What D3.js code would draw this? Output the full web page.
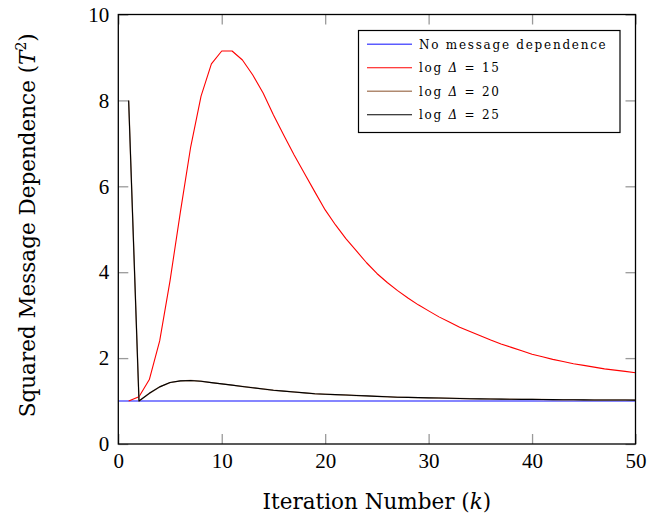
<!DOCTYPE html>
<html>
<head>
<meta charset="utf-8">
<script src="https://cdn.jsdelivr.net/npm/d3@7/dist/d3.min.js"></script>
<style>
  html, body { margin: 0; padding: 0; background: #fff; }
  svg { display: block; }
  .tick text { font-family: "Liberation Serif", "DejaVu Serif", serif; }
</style>
</head>
<body>
<svg id="chart" width="649" height="520"></svg>
<script>
// Iteration numbers k
const iterations = [1,2,3,4,5,6,7,8,9,10,11,12,13,14,15,16,17,18,19,20,
  21,22,23,24,25,26,27,28,29,30,31,32,33,34,35,36,37,38,39,40,
  41,42,43,44,45,46,47,48,49,50];

// No message dependence: flat at 1 over the whole range
const baselineK = [0, 50];
const baselineValues = [1, 1];

// log Δ = 15
const logDelta15 = [1.00,1.10,1.50,2.40,3.80,5.40,6.92,8.10,8.85,9.15,
  9.15,8.94,8.59,8.17,7.66,7.19,6.73,6.30,5.87,5.45,
  5.10,4.78,4.50,4.22,3.97,3.76,3.57,3.40,3.24,3.10,
  2.96,2.84,2.72,2.62,2.52,2.42,2.33,2.25,2.17,2.09,
  2.03,1.97,1.92,1.87,1.83,1.79,1.75,1.72,1.69,1.66];

// log Δ = 20
const logDelta20 = [8.00,1.00,1.18,1.33,1.43,1.47,1.48,1.46,1.43,1.40,
  1.37,1.34,1.31,1.28,1.25,1.23,1.21,1.19,1.17,1.16,
  1.15,1.14,1.13,1.12,1.11,1.10,1.09,1.085,1.08,1.075,
  1.07,1.065,1.06,1.055,1.05,1.048,1.045,1.042,1.04,1.038,
  1.035,1.033,1.031,1.029,1.027,1.026,1.025,1.024,1.023,1.022];

// log Δ = 25
const logDelta25 = [8.00,1.00,1.18,1.33,1.43,1.47,1.48,1.46,1.43,1.40,
  1.37,1.34,1.31,1.28,1.25,1.23,1.21,1.19,1.17,1.16,
  1.15,1.14,1.13,1.12,1.11,1.10,1.09,1.085,1.08,1.075,
  1.07,1.065,1.06,1.055,1.05,1.048,1.045,1.042,1.04,1.038,
  1.035,1.033,1.031,1.029,1.027,1.026,1.025,1.024,1.023,1.022];

const xTicks = [0, 10, 20, 30, 40, 50];
const yTicks = [0, 2, 4, 6, 8, 10];

const legendItems = [
  { label: "No message dependence", color: "#5c5cff", width: 1.4, parts: [["No message dependence", "normal"]] },
  { label: "log Δ = 15", color: "#ff0000", width: 1.1, parts: [["log ", "normal"], ["Δ", "italic"], [" = 15", "normal"]] },
  { label: "log Δ = 20", color: "#b08a70", width: 1.4, parts: [["log ", "normal"], ["Δ", "italic"], [" = 20", "normal"]] },
  { label: "log Δ = 25", color: "#000000", width: 1.1, parts: [["log ", "normal"], ["Δ", "italic"], [" = 25", "normal"]] }
];

const svg = d3.select("#chart");
const plot = { left: 118.3, right: 635.5, top: 14.5, bottom: 444 };

const x = d3.scaleLinear().domain([0, 50]).range([plot.left, plot.right]);
const y = d3.scaleLinear().domain([0, 10]).range([plot.bottom, plot.top]);

const titleFont = "'DejaVu Serif', serif";
const tickLen = 10;
const tickColor = "#9a9a9a";

// Axes with inward ticks on all four sides
function styleAxis(g) {
  g.select(".domain").remove();
  g.selectAll(".tick line").attr("stroke", tickColor).attr("stroke-width", 1.3);
  g.selectAll(".tick text").attr("fill", "#000").style("font-size", "21px");
}

svg.append("g")
  .attr("transform", `translate(0,${plot.bottom})`)
  .call(d3.axisBottom(x).tickValues(xTicks).tickSize(-tickLen).tickPadding(9))
  .call(styleAxis);

svg.append("g")
  .attr("transform", `translate(0,${plot.top})`)
  .call(d3.axisTop(x).tickValues(xTicks).tickSize(-tickLen).tickFormat(""))
  .call(styleAxis);

svg.append("g")
  .attr("transform", `translate(${plot.left},0)`)
  .call(d3.axisLeft(y).tickValues(yTicks).tickSize(-tickLen).tickPadding(9))
  .call(styleAxis);

svg.append("g")
  .attr("transform", `translate(${plot.right},0)`)
  .call(d3.axisRight(y).tickValues(yTicks).tickSize(-tickLen).tickFormat(""))
  .call(styleAxis);

// Series lines
const line = d3.line().x(d => x(d[0])).y(d => y(d[1]));

const series = [
  { k: baselineK, v: baselineValues, item: legendItems[0] },
  { k: iterations, v: logDelta15, item: legendItems[1] },
  { k: iterations, v: logDelta20, item: legendItems[2] },
  { k: iterations, v: logDelta25, item: legendItems[3] }
];

series.forEach(s => {
  svg.append("path")
    .datum(s.k.map((k, i) => [k, s.v[i]]))
    .attr("fill", "none")
    .attr("stroke", s.item.color)
    .attr("stroke-width", s.item.width)
    .attr("stroke-linejoin", "round")
    .attr("d", line);
});

// Plot frame
svg.append("rect")
  .attr("x", plot.left).attr("y", plot.top)
  .attr("width", plot.right - plot.left).attr("height", plot.bottom - plot.top)
  .attr("fill", "none").attr("stroke", "#000").attr("stroke-width", 1.3);

// Legend
const legend = svg.append("g");
legend.append("rect")
  .attr("x", 358.5).attr("y", 30.5).attr("width", 261.5).attr("height", 102)
  .attr("fill", "#fff").attr("stroke", "#000").attr("stroke-width", 1.2);

legendItems.forEach((it, i) => {
  const cy = 44.3 + i * 23.5;
  legend.append("line")
    .attr("x1", 367).attr("x2", 412).attr("y1", cy).attr("y2", cy)
    .attr("stroke", it.color).attr("stroke-width", it.width);
  const t = legend.append("text")
    .attr("x", 419).attr("y", cy + 4.5)
    .style("font-family", "'DejaVu Serif', serif")
    .style("font-size", "12px")
    .style("letter-spacing", "1.75px")
    .attr("fill", "#000");
  it.parts.forEach(p => t.append("tspan").style("font-style", p[1]).text(p[0]));
});

// Axis titles
svg.append("text")
  .attr("x", (plot.left + plot.right) / 2).attr("y", 509)
  .attr("text-anchor", "middle")
  .style("font-family", titleFont).style("font-size", "21.5px")
  .call(t => {
    t.append("tspan").text("Iteration Number (");
    t.append("tspan").style("font-style", "italic").text("k");
    t.append("tspan").text(")");
  });

svg.append("text")
  .attr("transform", `translate(35,${(plot.top + plot.bottom) / 2 - 4}) rotate(-90)`)
  .attr("text-anchor", "middle")
  .style("font-family", titleFont).style("font-size", "21.5px")
  .call(t => {
    t.append("tspan").text("Squared Message Dependence (");
    t.append("tspan").style("font-style", "italic").text("T");
    t.append("tspan").attr("dy", -9).style("font-size", "14px").text("2");
    t.append("tspan").attr("dy", 9).text(")");
  });
</script>
</body>
</html>
